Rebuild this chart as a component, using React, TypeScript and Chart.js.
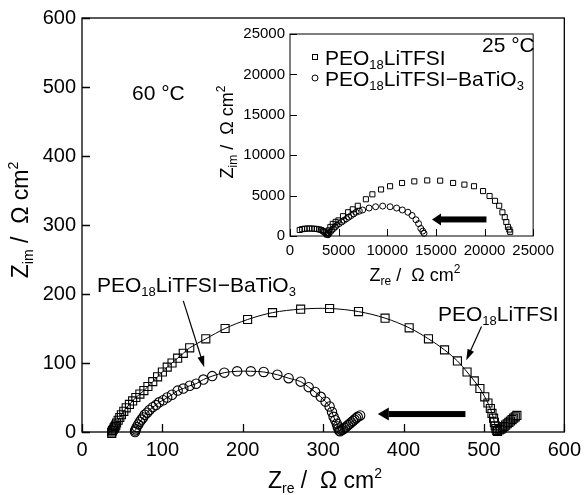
import { useEffect, useRef } from "react";
import { Chart, registerables } from "chart.js";
Chart.register(...registerables);

const FONT = "'Liberation Sans', Arial, Helvetica, sans-serif";

// ---------- Main chart (60 °C) ----------
const peoArcX = [37, 37, 38, 39, 40, 41, 42, 43, 45, 47, 49, 52, 55, 59, 63, 67, 72, 77, 82, 88, 94, 100, 106, 112, 119, 126,
  134, 154, 178, 206, 237, 272, 308, 344, 377, 407, 431, 451, 467, 479, 488, 495, 501, 505, 508, 510, 512, 513, 514, 515, 516];
const peoArcY = [-2, 0, 2, 4, 6, 8, 10, 13, 17, 21, 25, 30, 35, 40, 45, 50, 55, 60, 66, 73, 80, 87, 94, 100, 107, 114,
  122, 135, 150, 163, 173, 178, 179, 174.5, 165, 151, 135, 119, 103, 87, 74, 63, 51, 42, 34, 27, 20, 14, 9, 5, 2];
const peoTailX = [517, 519, 521, 523, 525, 527, 529, 531, 533, 535, 537, 539, 541];
const peoTailY = [1, 3, 4, 6, 8, 10, 12, 14, 16, 18, 20, 22, 24];

const batArcX = [66, 66, 67, 68, 70, 72, 74, 76, 78, 81, 84, 88, 92, 96, 101, 106, 112, 119, 126, 134, 142, 151, 162, 177,
  193, 210, 226, 243, 257, 272, 282, 290, 297, 303, 308, 311, 313, 315, 317, 318, 319, 320];
const batArcY = [0, 2, 4, 7, 11, 15, 18, 21, 25, 28, 32, 36, 39, 43, 46, 50, 54, 60, 63, 67, 70, 76, 81, 86,
  88, 88, 87, 83, 78, 73, 65, 58, 51, 44, 37, 29, 22, 17, 12, 8, 5, 2];
const batTailX = [321, 323, 325, 327, 329, 331, 333, 335, 337, 339, 341, 343, 346];
const batTailY = [1, 3, 4, 6, 8, 10, 12, 14, 16, 18, 20, 22, 24];

const mainTicks = [0, 100, 200, 300, 400, 500, 600];

// ---------- Inset (25 °C) ----------
const peo25X = [1000, 1250, 1500, 1750, 2000, 2250, 2500, 2750, 3000, 3200, 3400, 3550, 3700, 3800,
  3900, 4000, 4150, 4400, 4700, 4980, 5450, 5980, 6450, 6970, 7800, 8470, 9360, 10290, 11520, 12780, 14110,
  15440, 16770, 17930, 18920, 19850, 20520, 21080, 21510, 21840, 22080, 22240, 22410, 22550, 22640];
const peo25Y = [750, 850, 900, 920, 930, 920, 900, 870, 820, 740, 620, 480, 330, 180,
  300, 700, 1120, 1500, 1750, 1930, 2450, 2940, 3300, 3740, 4550, 5160, 5760, 6160, 6560, 6760, 6880,
  6850, 6560, 6360, 6160, 5560, 4950, 4350, 3740, 2930, 2330, 1730, 1120, 800, 520];
const bat25X = [3900, 4000, 4150, 4300, 4480, 4650, 4810, 5050, 5310, 5550, 5800, 6050, 6300, 6550, 6800, 7130, 7470,
  8130, 8800, 9530, 10290, 10960, 11550, 12120, 12550, 12950, 13220, 13450, 13650, 13780];
const bat25Y = [150, 330, 520, 730, 930, 1130, 1330, 1530, 1730, 1940, 2140, 2340, 2540, 2740, 2940, 3080, 3220,
  3460, 3620, 3700, 3620, 3460, 3220, 2940, 2540, 2010, 1530, 930, 600, 330];

const insetTicks = [0, 5000, 10000, 15000, 20000, 25000];

const pts = (xs: number[], ys: number[]) => xs.map((x, i) => ({ x, y: ys[i] }));

type Part = { t: string; size: number; dy?: number };

function drawRich(ctx: CanvasRenderingContext2D, parts: Part[], x: number, y: number, align: "left" | "center" | "right") {
  let total = 0;
  for (const p of parts) {
    ctx.font = `${p.size}px ${FONT}`;
    total += ctx.measureText(p.t).width;
  }
  let cx = align === "left" ? x : align === "center" ? x - total / 2 : x - total;
  ctx.textAlign = "left";
  ctx.textBaseline = "alphabetic";
  ctx.fillStyle = "#000";
  for (const p of parts) {
    ctx.font = `${p.size}px ${FONT}`;
    ctx.fillText(p.t, cx, y + (p.dy || 0));
    cx += ctx.measureText(p.t).width;
  }
}

function thinArrow(ctx: CanvasRenderingContext2D, x1: number, y1: number, x2: number, y2: number, hl: number, hw: number) {
  const a = Math.atan2(y2 - y1, x2 - x1);
  ctx.beginPath();
  ctx.moveTo(x1, y1);
  ctx.lineTo(x2 - Math.cos(a) * hl * 0.8, y2 - Math.sin(a) * hl * 0.8);
  ctx.lineWidth = 1.2;
  ctx.strokeStyle = "#000";
  ctx.stroke();
  ctx.beginPath();
  ctx.moveTo(x2, y2);
  ctx.lineTo(x2 - Math.cos(a) * hl - Math.sin(a) * hw, y2 - Math.sin(a) * hl + Math.cos(a) * hw);
  ctx.lineTo(x2 - Math.cos(a) * hl + Math.sin(a) * hw, y2 - Math.sin(a) * hl - Math.cos(a) * hw);
  ctx.closePath();
  ctx.fillStyle = "#000";
  ctx.fill();
}

function thickArrow(ctx: CanvasRenderingContext2D, xs: number, xe: number, y: number, shaft: number, hl: number, hh: number) {
  ctx.fillStyle = "#000";
  ctx.fillRect(xe + hl, y - shaft / 2, xs - xe - hl, shaft);
  ctx.beginPath();
  ctx.moveTo(xe, y);
  ctx.lineTo(xe + hl, y - hh / 2);
  ctx.lineTo(xe + hl, y + hh / 2);
  ctx.closePath();
  ctx.fill();
}

function frameAndTicks(chart: any, len: number, lw: number) {
  const ctx: CanvasRenderingContext2D = chart.ctx;
  const { left, right, top, bottom } = chart.chartArea;
  const xs = chart.scales.x;
  const ys = chart.scales.y;
  ctx.save();
  ctx.strokeStyle = "#000";
  ctx.lineWidth = lw;
  ctx.strokeRect(left, top, right - left, bottom - top);
  ctx.beginPath();
  for (const t of xs.ticks) {
    const px = Math.round(xs.getPixelForValue(t.value)) + 0.5;
    ctx.moveTo(px, bottom);
    ctx.lineTo(px, bottom - len);
  }
  for (const t of ys.ticks) {
    const py = Math.round(ys.getPixelForValue(t.value)) + 0.5;
    ctx.moveTo(left, py);
    ctx.lineTo(left + len, py);
  }
  ctx.stroke();
  ctx.restore();
}

const mainPlugin = {
  id: "mainDecor",
  afterDraw(chart: any) {
    const ctx: CanvasRenderingContext2D = chart.ctx;
    const xs = chart.scales.x;
    const ys = chart.scales.y;
    frameAndTicks(chart, 8, 1.3);
    ctx.save();
    drawRich(ctx, [
      { t: "Z", size: 23 },
      { t: "re", size: 14, dy: 5 },
      { t: " /  Ω cm", size: 23 },
      { t: "2", size: 14, dy: -10 },
    ], 325, 488, "center");
    ctx.save();
    ctx.translate(28, 220);
    ctx.rotate(-Math.PI / 2);
    drawRich(ctx, [
      { t: "Z", size: 23 },
      { t: "im", size: 14, dy: 5 },
      { t: " /  Ω cm", size: 23 },
      { t: "2", size: 14, dy: -10 },
    ], 0, 0, "center");
    ctx.restore();
    drawRich(ctx, [{ t: "60 °C", size: 21 }], 132, 100, "left");
    drawRich(ctx, [
      { t: "PEO", size: 21 },
      { t: "18", size: 13, dy: 4 },
      { t: "LiTFSI−BaTiO", size: 21 },
      { t: "3", size: 13, dy: 4 },
    ], 97, 292, "left");
    drawRich(ctx, [
      { t: "PEO", size: 21 },
      { t: "18", size: 13, dy: 4 },
      { t: "LiTFSI", size: 21 },
    ], 438, 321, "left");
    thinArrow(ctx, xs.getPixelForValue(126), ys.getPixelForValue(190), xs.getPixelForValue(152), ys.getPixelForValue(94), 11, 3.5);
    thinArrow(ctx, xs.getPixelForValue(497), ys.getPixelForValue(153), xs.getPixelForValue(478), ys.getPixelForValue(104), 11, 3.5);
    thickArrow(ctx, xs.getPixelForValue(477), xs.getPixelForValue(368), ys.getPixelForValue(26), 6, 11, 13);
    ctx.restore();
  },
};

const insetPlugin = {
  id: "insetDecor",
  afterDraw(chart: any) {
    const ctx: CanvasRenderingContext2D = chart.ctx;
    const xs = chart.scales.x;
    const ys = chart.scales.y;
    frameAndTicks(chart, 7, 1);
    ctx.save();
    const ox = 210;
    const oy = 20;
    drawRich(ctx, [
      { t: "Z", size: 18 },
      { t: "re", size: 12, dy: 4 },
      { t: " /  Ω cm", size: 18 },
      { t: "2", size: 12, dy: -8 },
    ], 415 - ox, 281 - oy, "center");
    ctx.save();
    ctx.translate(233 - ox, 132 - oy);
    ctx.rotate(-Math.PI / 2);
    drawRich(ctx, [
      { t: "Z", size: 18 },
      { t: "im", size: 12, dy: 4 },
      { t: " /  Ω cm", size: 18 },
      { t: "2", size: 12, dy: -8 },
    ], 0, 0, "center");
    ctx.restore();
    drawRich(ctx, [{ t: "25 °C", size: 21 }], 482 - ox, 52 - oy, "left");
    ctx.strokeStyle = "#000";
    ctx.lineWidth = 1;
    ctx.strokeRect(312 - ox + 0.5, 57 - oy - 2.5, 5, 5);
    ctx.beginPath();
    ctx.arc(314.5 - ox + 0.5, 78 - oy, 3, 0, Math.PI * 2);
    ctx.stroke();
    drawRich(ctx, [
      { t: "PEO", size: 21 },
      { t: "18", size: 13, dy: 4 },
      { t: "LiTFSI", size: 21 },
    ], 325 - ox, 65 - oy, "left");
    drawRich(ctx, [
      { t: "PEO", size: 21 },
      { t: "18", size: 13, dy: 4 },
      { t: "LiTFSI−BaTiO", size: 21 },
      { t: "3", size: 13, dy: 4 },
    ], 325 - ox, 86 - oy, "left");
    thickArrow(ctx, xs.getPixelForValue(20200), xs.getPixelForValue(14600), ys.getPixelForValue(2050), 6, 9, 12);
    ctx.restore();
  },
};

const hollow = (style: string, r: number, bw: number) => ({
  pointStyle: style,
  pointRadius: r,
  pointBackgroundColor: "rgba(0,0,0,0)",
  pointBorderColor: "#000",
  pointBorderWidth: bw,
  clip: false as any,
});

const plain = (v: any) => String(v);

export default function App() {
  const mainRef = useRef<HTMLCanvasElement>(null);
  const insetRef = useRef<HTMLCanvasElement>(null);

  useEffect(() => {
    document.body.style.margin = "0";
    const tickFontMain = { family: FONT, size: 20 };
    const tickFontInset = { family: FONT, size: 15 };

    const main = new Chart(mainRef.current!, {
      type: "scatter",
      data: {
        datasets: [
          { data: pts(peoArcX, peoArcY), showLine: true, borderColor: "#000", borderWidth: 1, tension: 0.35, ...hollow("rect", 5.7, 1.1) } as any,
          { data: pts(peoTailX, peoTailY), showLine: false, ...hollow("rect", 5.7, 1.1) } as any,
          { data: pts(batArcX, batArcY), showLine: true, borderColor: "#000", borderWidth: 1, tension: 0.35, ...hollow("circle", 4.7, 1.1) } as any,
          { data: pts(batTailX, batTailY), showLine: false, ...hollow("circle", 4.7, 1.1) } as any,
        ],
      },
      options: {
        animation: false,
        responsive: false,
        maintainAspectRatio: false,
        events: [],
        layout: { padding: { left: 0, right: 20, top: 16, bottom: 0 } },
        plugins: { legend: { display: false }, tooltip: { enabled: false } },
        scales: {
          x: {
            type: "linear", min: 0, max: 600,
            afterBuildTicks: (s: any) => { s.ticks = mainTicks.map((v) => ({ value: v })); },
            ticks: { font: tickFontMain, color: "#000", padding: 6, autoSkip: false, maxRotation: 0, callback: plain },
            grid: { display: false, drawTicks: false },
            border: { display: false },
            afterFit: (s: any) => { s.height = 63; },
          },
          y: {
            type: "linear", min: 0, max: 600,
            afterBuildTicks: (s: any) => { s.ticks = mainTicks.map((v) => ({ value: v })); },
            ticks: { font: tickFontMain, color: "#000", padding: 6, autoSkip: false, callback: plain },
            grid: { display: false, drawTicks: false },
            border: { display: false },
            afterFit: (s: any) => { s.width = 82; },
          },
        },
      } as any,
      plugins: [mainPlugin],
    });

    const inset = new Chart(insetRef.current!, {
      type: "scatter",
      data: {
        datasets: [
          { data: pts(peo25X, peo25Y), showLine: false, ...hollow("rect", 3.6, 1) } as any,
          { data: pts(bat25X, bat25Y), showLine: false, ...hollow("circle", 3, 1) } as any,
        ],
      },
      options: {
        animation: false,
        responsive: false,
        maintainAspectRatio: false,
        events: [],
        layout: { padding: { left: 0, right: 19, top: 9, bottom: 0 } },
        plugins: { legend: { display: false }, tooltip: { enabled: false } },
        scales: {
          x: {
            type: "linear", min: 0, max: 25000,
            afterBuildTicks: (s: any) => { s.ticks = insetTicks.map((v) => ({ value: v })); },
            ticks: { font: tickFontInset, color: "#000", padding: 6, autoSkip: false, maxRotation: 0, callback: plain },
            grid: { display: false, drawTicks: false },
            border: { display: false },
            afterFit: (s: any) => { s.height = 49; },
          },
          y: {
            type: "linear", min: 0, max: 25000,
            afterBuildTicks: (s: any) => { s.ticks = insetTicks.map((v) => ({ value: v })); },
            ticks: { font: tickFontInset, color: "#000", padding: 5, autoSkip: false, callback: plain },
            grid: { display: false, drawTicks: false },
            border: { display: false },
            afterFit: (s: any) => { s.width = 80; },
          },
        },
      } as any,
      plugins: [insetPlugin],
    });

    return () => {
      main.destroy();
      inset.destroy();
    };
  }, []);

  return (
    <div style={{ position: "absolute", left: 0, top: 0, width: 587, height: 495, background: "#fff" }}>
      <canvas ref={mainRef} width={587} height={495} style={{ position: "absolute", left: 0, top: 0, width: 587, height: 495 }} />
      <canvas ref={insetRef} width={350} height={265} style={{ position: "absolute", left: 210, top: 20, width: 350, height: 265 }} />
    </div>
  );
}
